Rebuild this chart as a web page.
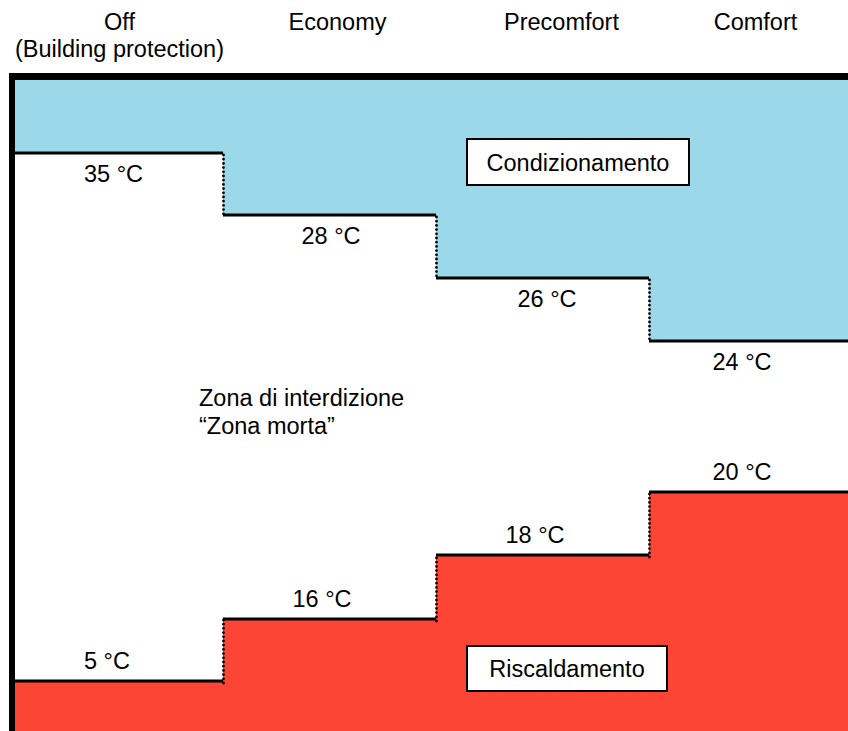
<!DOCTYPE html>
<html>
<head>
<meta charset="utf-8">
<script src="https://cdn.jsdelivr.net/npm/d3@7"></script>
<style>
  body { margin: 0; background: #fff; }
  text { font-family: "Liberation Sans", Arial, sans-serif; fill: #000; }
</style>
</head>
<body>
<script>
/********************************************************/
// data
const modes = ["Off", "Economy", "Precomfort", "Comfort"];
const modeSub = ["(Building protection)", "", "", ""];
const coolSetpoints = [35, 28, 26, 24];
const heatSetpoints = [5, 16, 18, 20];
// ordered levels of the schematic temperature axis (not to scale)
const tempLevels = [5, 16, 18, 20, 24, 26, 28, 35];
const levelPos = [681, 619, 555, 492, 341, 278, 215, 153];
const deadZoneLabel = ["Zona di interdizione", "\u201CZona morta\u201D"];
const coolLabel = "Condizionamento";
const heatLabel = "Riscaldamento";

/********************************************************/
const svgWidth = 848;
const svgHeight = 731;
const frameTop = 80;
const fontSize = "23.5px";

const svg = d3
  .select("body")
  .append("svg")
  .attr("width", svgWidth)
  .attr("height", svgHeight);

/************** scales ************/
const xScale = d3
  .scaleBand()
  .domain(modes)
  .range([10, 862])
  .paddingInner(0);

// piecewise scale: each setpoint level gets its own row
const yScale = d3
  .scaleLinear()
  .domain(tempLevels)
  .range(levelPos);

const blue = "#9bd8e9";
const red = "#fd4535";

// small nudges of the labels inside each column
const coolShift = [-3, 1.5, 4.5, -13.5];
const heatShift = [-9.5, -7.5, -7.5, -13.5];
const headerShift = [3, 8, 19, 0];

/************** fills ************/
svg
  .selectAll(".cool")
  .data(coolSetpoints)
  .enter()
  .append("rect")
  .attr("x", (d, i) => xScale(modes[i]))
  .attr("y", frameTop)
  .attr("width", xScale.bandwidth())
  .attr("height", (d) => yScale(d) - frameTop)
  .attr("fill", blue);

svg
  .selectAll(".heat")
  .data(heatSetpoints)
  .enter()
  .append("rect")
  .attr("x", (d, i) => xScale(modes[i]))
  .attr("y", (d) => yScale(d))
  .attr("width", xScale.bandwidth())
  .attr("height", (d) => svgHeight - yScale(d))
  .attr("fill", red);

/************** step lines ************/
function drawSteps(values) {
  svg
    .append("g")
    .selectAll("line")
    .data(values)
    .enter()
    .append("line")
    .attr("x1", (d, i) => xScale(modes[i]))
    .attr("x2", (d, i) => xScale(modes[i]) + xScale.bandwidth())
    .attr("y1", (d) => yScale(d))
    .attr("y2", (d) => yScale(d))
    .attr("stroke", "#000")
    .attr("stroke-width", 3);

  // dotted risers between modes
  svg
    .append("g")
    .selectAll("line")
    .data(values.slice(1))
    .enter()
    .append("line")
    .attr("x1", (d, i) => xScale(modes[i + 1]) + 0.5)
    .attr("x2", (d, i) => xScale(modes[i + 1]) + 0.5)
    .attr("y1", (d, i) => yScale(values[i]) + 2)
    .attr("y2", (d) => yScale(d))
    .attr("stroke", "#000")
    .attr("stroke-width", 2.8)
    .attr("stroke-linecap", "round")
    .attr("stroke-dasharray", "0,4.2");
}
drawSteps(coolSetpoints);
drawSteps(heatSetpoints);

/************** setpoint labels ************/
svg
  .selectAll(".coolLabel")
  .data(coolSetpoints)
  .enter()
  .append("text")
  .attr("x", (d, i) => xScale(modes[i]) + xScale.bandwidth() / 2 + coolShift[i])
  .attr("y", (d) => yScale(d) + 29)
  .attr("text-anchor", "middle")
  .attr("font-size", fontSize)
  .text((d) => d + " \u00B0C");

svg
  .selectAll(".heatLabel")
  .data(heatSetpoints)
  .enter()
  .append("text")
  .attr("x", (d, i) => xScale(modes[i]) + xScale.bandwidth() / 2 + heatShift[i])
  .attr("y", (d) => yScale(d) - 12)
  .attr("text-anchor", "middle")
  .attr("font-size", fontSize)
  .text((d) => d + " \u00B0C");

/************** frame ************/
svg
  .append("line")
  .attr("x1", 9)
  .attr("x2", svgWidth)
  .attr("y1", 76.5)
  .attr("y2", 76.5)
  .attr("stroke", "#000")
  .attr("stroke-width", 7);

svg
  .append("line")
  .attr("x1", 12)
  .attr("x2", 12)
  .attr("y1", 73)
  .attr("y2", svgHeight)
  .attr("stroke", "#000")
  .attr("stroke-width", 6);

/************** mode headers ************/
modes.forEach((m, i) => {
  const cx = xScale(m) + xScale.bandwidth() / 2 + headerShift[i];
  svg
    .append("text")
    .attr("x", cx)
    .attr("y", 30)
    .attr("text-anchor", "middle")
    .attr("font-size", fontSize)
    .text(m);
  if (modeSub[i]) {
    svg
      .append("text")
      .attr("x", cx)
      .attr("y", 57)
      .attr("text-anchor", "middle")
      .attr("font-size", fontSize)
      .text(modeSub[i]);
  }
});

/************** boxed zone labels ************/
function boxLabel(label, x, y, w, h) {
  svg
    .append("rect")
    .attr("x", x)
    .attr("y", y)
    .attr("width", w)
    .attr("height", h)
    .attr("fill", "#fff")
    .attr("stroke", "#000")
    .attr("stroke-width", 2);
  svg
    .append("text")
    .attr("x", x + w / 2)
    .attr("y", y + h / 2 + 8.5)
    .attr("text-anchor", "middle")
    .attr("font-size", fontSize)
    .text(label);
}
boxLabel(coolLabel, 467, 139, 222, 46);
boxLabel(heatLabel, 467, 646, 200, 45);

/************** dead zone text ************/
deadZoneLabel.forEach((t, i) => {
  svg
    .append("text")
    .attr("x", 199)
    .attr("y", 406 + i * 28)
    .attr("font-size", fontSize)
    .text(t);
});
</script>
</body>
</html>
